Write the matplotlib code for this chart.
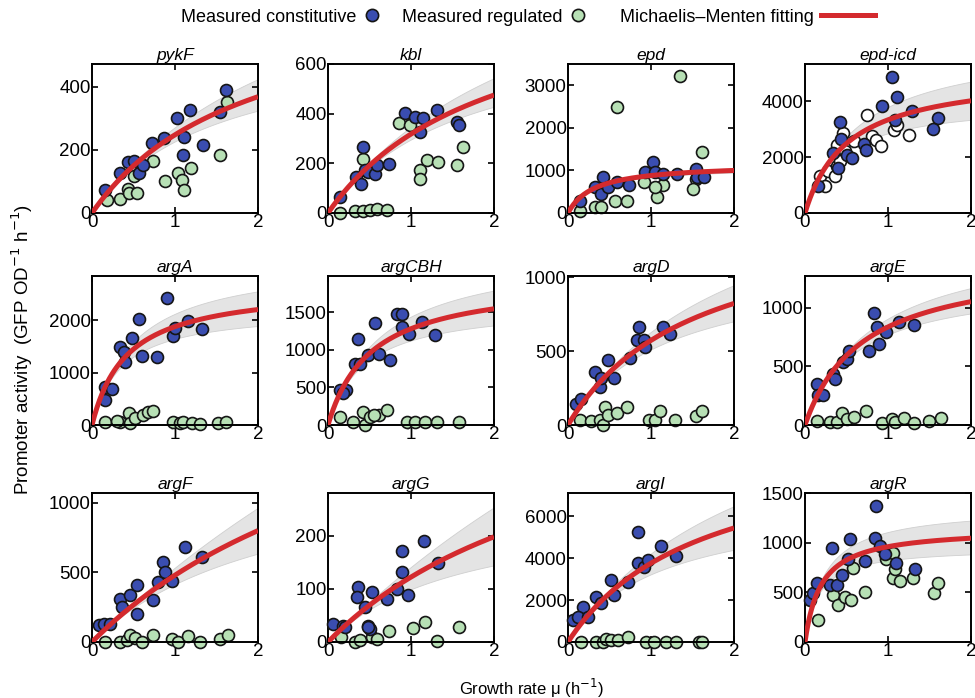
import numpy as np
import matplotlib.pyplot as plt
from matplotlib.lines import Line2D

plt.rcParams['font.family'] = ['Liberation Sans', 'DejaVu Sans']

# measured points, (growth rate, promoter activity)
pykF_con = [(0.16, 74), (0.34, 126), (0.43, 163), (0.50, 166), (0.57, 128), (0.62, 153),
            (0.72, 223), (0.87, 237), (1.03, 303), (1.18, 328), (1.11, 242), (1.10, 184),
            (1.34, 216), (1.54, 321), (1.62, 389)]
pykF_reg = [(0.18, 42), (0.34, 44), (0.43, 76), (0.45, 63), (0.54, 63), (0.50, 116),
            (0.74, 166), (0.88, 103), (1.04, 126), (1.09, 105), (1.11, 72), (1.19, 142),
            (1.54, 184), (1.63, 353)]

kbl_con = [(0.14, 64), (0.34, 145), (0.42, 266), (0.40, 118), (0.44, 172), (0.48, 165),
           (0.57, 158), (0.59, 192), (0.73, 199), (0.93, 401), (1.05, 388), (1.15, 381),
           (1.11, 327), (1.31, 415), (1.56, 368), (1.58, 354)]
kbl_reg = [(0.14, 0), (0.32, 10), (0.42, 7), (0.50, 12), (0.59, 15), (0.71, 12),
           (0.42, 219), (0.85, 361), (0.99, 354), (1.11, 172), (1.11, 138), (1.19, 212),
           (1.33, 205), (1.55, 192), (1.63, 264)]

epd_con = [(0.14, 292), (0.32, 608), (0.42, 845), (0.40, 450), (0.48, 608), (0.59, 726),
           (0.73, 647), (0.93, 963), (1.03, 1200), (1.05, 963), (1.15, 923), (1.31, 923),
           (1.54, 1042), (1.56, 845), (1.64, 845)]
epd_reg = [(0.14, 55), (0.32, 134), (0.40, 134), (0.57, 292), (0.71, 292), (0.59, 2487),
           (0.91, 726), (1.07, 371), (1.15, 647), (1.05, 608), (1.35, 3213), (1.54, 805),
           (1.62, 1437), (1.51, 568)]

epdicd_con = [(0.16, 976), (0.42, 3238), (0.43, 2643), (0.34, 2143), (0.40, 1607), (0.51, 2083),
              (0.57, 1964), (0.71, 2476), (0.73, 2262), (0.93, 3810), (1.05, 4857), (1.11, 4143),
              (1.09, 3333), (1.29, 3631), (1.60, 3393), (1.54, 3000)]
epdicd_reg = [(0.18, 1310), (0.24, 952), (0.28, 1488), (0.36, 1310), (0.38, 1667), (0.38, 2440),
              (0.46, 2857), (0.48, 2202), (0.59, 2560), (0.75, 3512), (0.81, 2738), (0.85, 2619),
              (0.91, 2405), (1.07, 2976), (1.11, 3155), (1.25, 2798), (0.42, 1845)]

argA_con = [(0.16, 472), (0.16, 723), (0.24, 692), (0.34, 1478), (0.38, 1384), (0.40, 1195),
            (0.48, 1667), (0.57, 2013), (0.60, 1321), (0.78, 1289), (0.90, 2421), (0.98, 1698),
            (1.00, 1855), (1.16, 1981), (1.33, 1824)]
argA_reg = [(0.16, 63), (0.34, 63), (0.44, 220), (0.46, 31), (0.52, 138), (0.62, 189),
            (0.68, 252), (0.74, 264), (0.98, 50), (1.06, 31), (1.10, 63), (1.20, 31),
            (1.30, 13), (1.52, 31), (1.62, 63), (0.30, 75)]

argCBH_con = [(0.14, 463), (0.22, 463), (0.18, 419), (0.32, 816), (0.38, 816), (0.36, 1147),
              (0.48, 926), (0.57, 1359), (0.61, 948), (0.75, 860), (0.83, 1478), (0.89, 1478),
              (0.89, 1301), (0.97, 1213), (1.13, 1368), (1.29, 1200)]
argCBH_reg = [(0.14, 110), (0.30, 35), (0.42, 176), (0.44, 0), (0.51, 110), (0.61, 132),
              (0.71, 199), (0.95, 35), (1.05, 35), (1.17, 44), (1.31, 35), (1.58, 44),
              (0.55, 132)]

argD_con = [(0.10, 141), (0.16, 176), (0.32, 356), (0.38, 258), (0.40, 316), (0.48, 438),
            (0.55, 316), (0.75, 457), (0.85, 667), (0.83, 574), (0.91, 574), (0.93, 527),
            (1.15, 667), (1.23, 614)]
argD_reg = [(0.14, 35), (0.28, 28), (0.38, 35), (0.44, 122), (0.42, 0), (0.48, 70),
            (0.59, 82), (0.71, 122), (0.97, 35), (1.05, 35), (1.11, 94), (1.29, 35),
            (1.54, 59), (1.62, 98)]

argE_con = [(0.14, 346), (0.16, 259), (0.22, 259), (0.34, 438), (0.36, 389), (0.46, 533),
            (0.51, 562), (0.53, 634), (0.77, 634), (0.83, 951), (0.87, 836), (0.89, 692),
            (0.97, 793), (1.13, 879), (1.31, 850)]
argE_reg = [(0.14, 35), (0.30, 29), (0.38, 29), (0.44, 101), (0.51, 52), (0.59, 72),
            (0.73, 121), (0.93, 14), (1.05, 52), (1.09, 23), (1.19, 63), (1.31, 14),
            (1.49, 35), (1.64, 58)]

argF_con = [(0.08, 120), (0.14, 132), (0.22, 132), (0.34, 312), (0.36, 252), (0.46, 336),
            (0.54, 408), (0.54, 199), (0.74, 300), (0.80, 432), (0.86, 576), (0.88, 504),
            (0.96, 439), (1.12, 679), (1.32, 612)]
argF_reg = [(0.16, 0), (0.34, 0), (0.42, 12), (0.46, 48), (0.52, 31), (0.60, 0),
            (0.74, 48), (0.96, 24), (1.04, 0), (1.16, 41), (1.30, 0), (1.54, 24), (1.64, 48)]

argG_con = [(0.06, 33), (0.18, 31), (0.20, 28), (0.36, 104), (0.35, 84), (0.44, 66),
            (0.51, 25), (0.53, 94), (0.71, 81), (0.83, 100), (0.89, 171), (0.89, 131),
            (0.96, 89), (1.16, 189), (1.33, 148), (0.48, 28)]
argG_reg = [(0.16, 9), (0.32, 0), (0.38, 3), (0.48, 31), (0.53, 9), (0.59, 6),
            (0.73, 20), (1.03, 26), (1.17, 38), (1.31, 2), (1.58, 28)]

argI_con = [(0.06, 1040), (0.18, 1680), (0.12, 1200), (0.24, 1200), (0.34, 2160), (0.40, 1840),
            (0.52, 2960), (0.56, 2240), (0.72, 2880), (0.84, 5232), (0.84, 3760), (0.92, 3600),
            (0.96, 3920), (1.12, 4592), (1.30, 4080)]
argI_reg = [(0.16, 0), (0.34, 0), (0.42, 0), (0.46, 160), (0.52, 80), (0.60, 112),
            (0.72, 240), (0.94, 0), (1.04, 0), (1.18, 0), (1.30, 0), (1.58, 0), (1.62, 0)]

argR_con = [(0.06, 424), (0.10, 492), (0.14, 594), (0.32, 950), (0.30, 577), (0.38, 577),
            (0.44, 679), (0.52, 831), (0.54, 1035), (0.72, 814), (0.84, 1052), (0.86, 1374),
            (0.90, 967), (0.96, 882), (1.10, 797), (1.32, 730)]
argR_reg = [(0.16, 221), (0.34, 475), (0.40, 373), (0.48, 458), (0.56, 424), (0.58, 747),
            (0.72, 499), (0.98, 831), (1.06, 645), (1.08, 730), (1.14, 611), (1.30, 645),
            (1.56, 492), (1.60, 594), (1.06, 899)]

genes = ['pykF', 'kbl', 'epd', 'epd-icd', 'argA', 'argCBH', 'argD', 'argE',
         'argF', 'argG', 'argI', 'argR']
constitutive = [pykF_con, kbl_con, epd_con, epdicd_con, argA_con, argCBH_con,
                argD_con, argE_con, argF_con, argG_con, argI_con, argR_con]
regulated = [pykF_reg, kbl_reg, epd_reg, epdicd_reg, argA_reg, argCBH_reg,
             argD_reg, argE_reg, argF_reg, argG_reg, argI_reg, argR_reg]

# Michaelis-Menten fit parameters and confidence band at mu = 2
vmax = [720, 938, 1157, 5043, 2664, 1947, 1461, 1417, 2400, 520, 9840, 1147]
km = [1.9, 1.95, 0.315, 0.513, 0.421, 0.522, 1.546, 0.695, 4.0, 3.26, 1.617, 0.195]
band_hi = [425, 543, 1050, 4700, 2547, 1786, 948, 1167, 964, 253, 6480, 1222]
band_lo = [325, 428, 950, 3333, 1887, 1323, 703, 951, 635, 144, 4400, 882]

ymax = [473, 600, 3500, 5330, 2840, 1980, 1010, 1270, 1070, 280, 7110, 1500]
yticks = [[0, 200, 400], [0, 200, 400, 600], [0, 1000, 2000, 3000], [0, 2000, 4000],
          [0, 1000, 2000], [0, 500, 1000, 1500], [0, 500, 1000], [0, 500, 1000],
          [0, 500, 1000], [0, 100, 200], [0, 2000, 4000, 6000], [0, 500, 1000, 1500]]

blue = '#3a4db0'
green = '#b7e0b5'
red = '#d42a2e'
edge = '#151515'


def mm(x, v, k):
    return v * x / (k + x)


def band_curve(x, v, k, y2):
    # same initial slope as the fit, passing through y2 at mu = 2
    s = v / k
    kb = 2 * y2 / (2 * s - y2)
    return mm(x, s * kb, kb)


fig = plt.figure(figsize=(9.75, 6.98), dpi=100)
W, H = 975, 698
lefts = [92, 328, 568, 805]
tops = [64, 276, 493]
aw, ah = 166, 149

mu = np.linspace(0, 2, 200)

for i, g in enumerate(genes):
    r, c = divmod(i, 4)
    ax = fig.add_axes([lefts[c] / W, 1 - (tops[r] + ah) / H, aw / W, ah / H])

    lo = band_curve(mu, vmax[i], km[i], band_lo[i])
    hi = band_curve(mu, vmax[i], km[i], band_hi[i])
    ax.fill_between(mu, lo, hi, color='#e4e4e4', edgecolor='#cfcfcf', lw=0.6, zorder=1)

    con = np.array(constitutive[i])
    reg = np.array(regulated[i])
    reg_face = 'white' if g == 'epd-icd' else green
    ax.scatter(reg[:, 0], reg[:, 1], s=74, c=reg_face, edgecolors=edge, linewidths=1.2,
               zorder=2, clip_on=False)
    ax.scatter(con[:, 0], con[:, 1], s=74, c=blue, edgecolors=edge, linewidths=1.2,
               zorder=3, clip_on=False)
    ax.plot(mu, mm(mu, vmax[i], km[i]), color=red, lw=3.6, zorder=4, solid_capstyle='butt')

    ax.set_xlim(0, 2)
    ax.set_ylim(0, ymax[i])
    ax.set_xticks([0, 1, 2])
    ax.set_yticks(yticks[i])
    ax.tick_params(direction='in', top=True, right=True, length=4, width=1.2,
                   labelsize=13.5, pad=1)
    for sp in ax.spines.values():
        sp.set_linewidth(1.4)
    ax.set_title(g, fontsize=12.5, style='italic', pad=3)

fig.text(0.023, 0.5, 'Promoter activity  (GFP OD$^{-1}$ h$^{-1}$)', rotation=90,
         ha='center', va='center', fontsize=13.5)
fig.text(0.545, 0.014, 'Growth rate \u03bc (h$^{-1}$)', ha='center', va='center', fontsize=12)

# legend entries laid out in one row, marker after the label
entries = [
    (Line2D([], [], ls='none', marker='o', ms=8.8, mfc=blue, mec=edge, mew=1.2),
     'Measured constitutive', 181, 0.9),
    (Line2D([], [], ls='none', marker='o', ms=8.8, mfc=green, mec=edge, mew=1.2),
     'Measured regulated', 402, 0.9),
    (Line2D([], [], color=red, lw=3.6), 'Michaelis\u2013Menten fitting', 620, 3.0),
]
for h, lab, x0, hl in entries:
    fig.legend([h], [lab], loc='center left', bbox_to_anchor=((x0 - 7) / W, 1 - 17 / H),
               frameon=False, markerfirst=False, fontsize=13, handlelength=hl,
               handletextpad=0.4, borderpad=0.4, borderaxespad=0)

fig.savefig('out.png', dpi=100)
